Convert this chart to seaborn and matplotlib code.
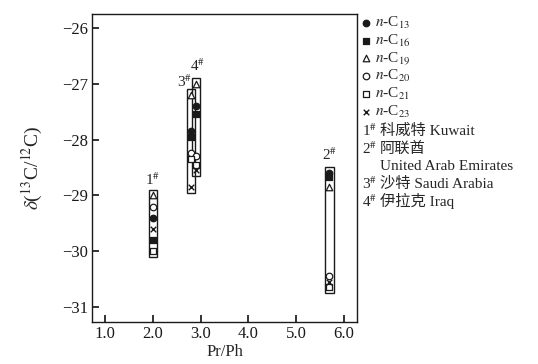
import matplotlib
matplotlib.use("Agg")
import matplotlib.pyplot as plt
import numpy as np
import pandas as pd
import seaborn as sns
from matplotlib.patches import Rectangle
from matplotlib.ticker import FormatStrFormatter

# Pr/Ph position of each crude oil sample
samples = ["1", "2", "3", "4"]
pr_ph = [2.0, 5.7, 2.8, 2.9]

# delta 13C of single n-alkanes, one list per compound (order as samples)
alkanes = ["C13", "C16", "C19", "C20", "C21", "C23"]
c13 = [-29.4, -28.6, -27.85, -27.4]
c16 = [-29.8, -28.68, -27.95, -27.55]
c19 = [-29.0, -28.85, -27.2, -27.0]
c20 = [-29.2, -30.45, -28.25, -28.3]
c21 = [-30.0, -30.65, -28.35, -28.45]
c23 = [-29.6, -30.55, -28.85, -28.55]

legend_notes = [
    ("1", "科威特 Kuwait"),
    ("2", "阿联酋"),
    ("", "United Arab Emirates"),
    ("3", "沙特 Saudi Arabia"),
    ("4", "伊拉克 Iraq"),
]

values = {"C13": c13, "C16": c16, "C19": c19, "C20": c20, "C21": c21, "C23": c23}
rows = []
for alk in alkanes:
    for s, x, v in zip(samples, pr_ph, values[alk]):
        rows.append({"sample": s, "pr_ph": x, "alkane": alk, "d13c": v})
df = pd.DataFrame(rows)

# marker, face colour
styles = {
    "C13": ("o", "k"),
    "C16": ("s", "k"),
    "C19": ("^", "w"),
    "C20": ("o", "w"),
    "C21": ("s", "w"),
    "C23": ("x", "k"),
}

sns.set_theme(style="ticks")
plt.rcParams.update(
    {
        "font.family": ["Liberation Serif", "Noto Sans CJK SC"],
        "mathtext.fontset": "stix",
        "xtick.direction": "in",
        "ytick.direction": "in",
        "xtick.major.size": 5,
        "ytick.major.size": 5,
        "axes.linewidth": 1.0,
        "axes.edgecolor": "k",
    }
)

W, H = 538, 364
fig = plt.figure(figsize=(W / 100, H / 100), dpi=100)
ax = fig.add_axes([92 / W, 1 - 322 / H, (357 - 92) / W, (322 - 14) / H])

# sample boxes around each group of points
half_w, pad = 0.09, 0.1
for s, grp in df.groupby("sample"):
    x0 = grp["pr_ph"].iloc[0]
    lo, hi = grp["d13c"].min() - pad, grp["d13c"].max() + pad
    ax.add_patch(
        Rectangle((x0 - half_w, lo), 2 * half_w, hi - lo,
                  fill=False, edgecolor="k", linewidth=1.0, zorder=1)
    )

for alk in alkanes:
    m, fc = styles[alk]
    sub = df[df["alkane"] == alk]
    lab = r"$n$-C$_{%s}$" % alk[1:]
    if m == "x":
        sns.scatterplot(data=sub, x="pr_ph", y="d13c", marker=m, color="k",
                        s=16, linewidth=1.0, label=lab, ax=ax, zorder=3)
    else:
        sns.scatterplot(data=sub, x="pr_ph", y="d13c", marker=m, color=fc,
                        edgecolor="k", s=22, linewidth=0.9, label=lab, ax=ax,
                        zorder=3)

# sample numbers next to the boxes
tags = {"1": (2.0, -28.72), "2": (5.7, -28.28),
        "3": (2.66, -26.97), "4": (2.93, -26.68)}
for s, (tx, ty) in tags.items():
    ax.text(tx, ty, r"%s$^{\#}$" % s, ha="center", va="center", fontsize=11)

ax.set_xlim(0.72, 6.28)
ax.set_ylim(-31.27, -25.75)
ax.set_xticks([1, 2, 3, 4, 5, 6])
ax.set_yticks([-31, -30, -29, -28, -27, -26])
ax.xaxis.set_major_formatter(FormatStrFormatter("%.1f"))
ax.tick_params(labelsize=12, colors="k", pad=3)
ax.set_xlabel("Pr/Ph", fontsize=12, labelpad=1)
ax.set_ylabel(r"$\delta$($^{13}$C/$^{12}$C)", fontsize=14, labelpad=12)

ax.legend(loc="upper left", bbox_to_anchor=(358 / W, 1 - 12 / H),
          bbox_transform=fig.transFigure, frameon=False, fontsize=11,
          handlelength=0.6, handletextpad=0.3, labelspacing=0.1,
          borderpad=0.2, borderaxespad=0)

y = 131
for num, txt in legend_notes:
    if num:
        fig.text(362 / W, 1 - y / H, r"%s$^{\#}$" % num, fontsize=11, va="center")
    fig.text(380 / W, 1 - y / H, txt, fontsize=11, va="center")
    y += 17.6

fig.savefig("out.png", dpi=100)
